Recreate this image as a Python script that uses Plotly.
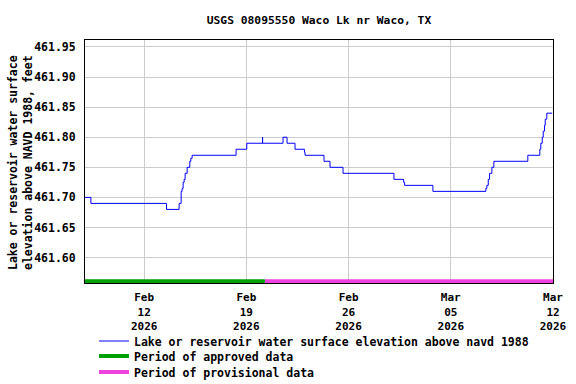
import plotly.graph_objects as go

# Lake elevation readings (step data)
times = [
    "2026-02-07 22:45", "2026-02-08 08:24", "2026-02-13 12:47", "2026-02-14 09:29",
    "2026-02-14 12:46", "2026-02-14 14:24", "2026-02-14 16:03", "2026-02-14 17:41",
    "2026-02-14 19:20", "2026-02-14 22:37", "2026-02-15 03:03", "2026-02-15 04:42",
    "2026-02-15 06:50", "2026-02-18 07:05", "2026-02-19 00:40", "2026-02-20 02:30",
    "2026-02-20 02:45", "2026-02-21 12:16", "2026-02-21 18:50", "2026-02-22 07:59",
    "2026-02-22 23:25", "2026-02-23 00:25", "2026-02-24 07:37", "2026-02-24 17:28",
    "2026-02-25 14:49", "2026-03-01 02:34", "2026-03-01 18:30", "2026-03-01 20:08",
    "2026-03-03 18:36", "2026-03-07 09:39", "2026-03-07 11:17", "2026-03-07 13:35",
    "2026-03-07 15:43", "2026-03-07 19:30", "2026-03-07 22:48", "2026-03-10 06:37",
    "2026-03-11 02:20", "2026-03-11 03:59", "2026-03-11 06:17", "2026-03-11 07:55",
    "2026-03-11 10:03", "2026-03-11 11:13", "2026-03-11 13:50", "2026-03-11 22:42",
]
elev = [
    461.70, 461.69, 461.68, 461.69,
    461.71, 461.715, 461.725, 461.73,
    461.74, 461.75, 461.76, 461.765,
    461.77, 461.78, 461.79, 461.80,
    461.79, 461.80, 461.79, 461.78,
    461.775, 461.77, 461.76, 461.75,
    461.74, 461.73, 461.725, 461.72,
    461.71, 461.715, 461.72, 461.73,
    461.74, 461.75, 461.76, 461.77,
    461.78, 461.79, 461.80, 461.81,
    461.82, 461.83, 461.84, 461.84,
]

approved_period = ["2026-02-07 22:45", "2026-02-20 06:30"]
provisional_period = ["2026-02-20 06:30", "2026-03-12 00:00"]
period_level = 461.5606

x_range = ["2026-02-07 22:45", "2026-03-12 00:00"]
y_range = [461.5577, 461.9616]

tick_vals = ["2026-02-12", "2026-02-19", "2026-02-26", "2026-03-05", "2026-03-12"]
tick_text = ["Feb<br>12<br>2026", "Feb<br>19<br>2026", "Feb<br>26<br>2026",
             "Mar<br>05<br>2026", "Mar<br>12<br>2026"]
y_ticks = [461.60, 461.65, 461.70, 461.75, 461.80, 461.85, 461.90, 461.95]
y_title = "Lake or reservoir water surface<br>elevation above NAVD 1988, feet"

FONT = "DejaVu Sans Mono"
W, H = 576, 384

fig = go.Figure()
fig.add_trace(go.Scatter(
    x=times, y=elev, mode="lines", line=dict(color="#0000FF", width=1, shape="hv"),
    name="Lake or reservoir water surface elevation above navd 1988", legend="legend"))
fig.add_trace(go.Scatter(
    x=approved_period, y=[period_level] * 2, mode="lines",
    line=dict(color="#00A000", width=4), name="Period of approved data", legend="legend2"))
fig.add_trace(go.Scatter(
    x=provisional_period, y=[period_level] * 2, mode="lines",
    line=dict(color="#EE44DD", width=4), name="Period of provisional data", legend="legend3"))

leg_font = dict(family=FONT, size=11.5, color="black", weight="bold")
plot_h = 243.0
plot_w = 468.0
leg_x = (94 - 85) / plot_w


def leg(abs_y):
    return dict(x=leg_x, xanchor="left", y=(283 - abs_y) / plot_h, yanchor="middle",
                orientation="v", itemwidth=30, font=leg_font,
                bgcolor="rgba(0,0,0,0)", borderwidth=0)


fig.update_layout(
    width=W, height=H,
    margin=dict(l=85, r=23, t=40, b=101, autoexpand=False),
    paper_bgcolor="white", plot_bgcolor="white",
    font=dict(family=FONT, size=11.5, color="black", weight="bold"),
    title=dict(text="USGS 08095550 Waco Lk nr Waco, TX", x=319 / W, xanchor="center",
               y=1 - 20 / H, yanchor="middle",
               font=dict(family=FONT, size=11.3, color="black", weight="bold")),
    showlegend=True,
    legend=leg(341), legend2=leg(356), legend3=leg(372),
    annotations=[dict(
        text=y_title, xref="paper", yref="paper",
        x=(20 - 85) / plot_w, y=(283 - 163) / plot_h,
        xanchor="center", yanchor="middle", textangle=-90, showarrow=False,
        align="center", font=dict(family=FONT, size=11.5, color="black", weight="bold"))],
)
fig.update_xaxes(
    type="date", range=x_range, tickvals=tick_vals, ticktext=tick_text,
    showgrid=True, gridcolor="#CCCCCC", gridwidth=1,
    showline=True, linecolor="black", linewidth=1, mirror=True,
    ticks="", ticklabelstandoff=4, tickfont=dict(size=11),
    zeroline=False,
)
fig.update_yaxes(
    range=y_range, tickvals=y_ticks, tickformat=".2f",
    showgrid=True, gridcolor="#CCCCCC", gridwidth=1,
    showline=True, linecolor="black", linewidth=1, mirror=True,
    ticks="outside", ticklen=6, tickcolor="rgba(0,0,0,0)", zeroline=False,
)

fig.write_html("out.html", config={"displayModeBar": False},
               post_script="document.body.style.margin='0px';")
